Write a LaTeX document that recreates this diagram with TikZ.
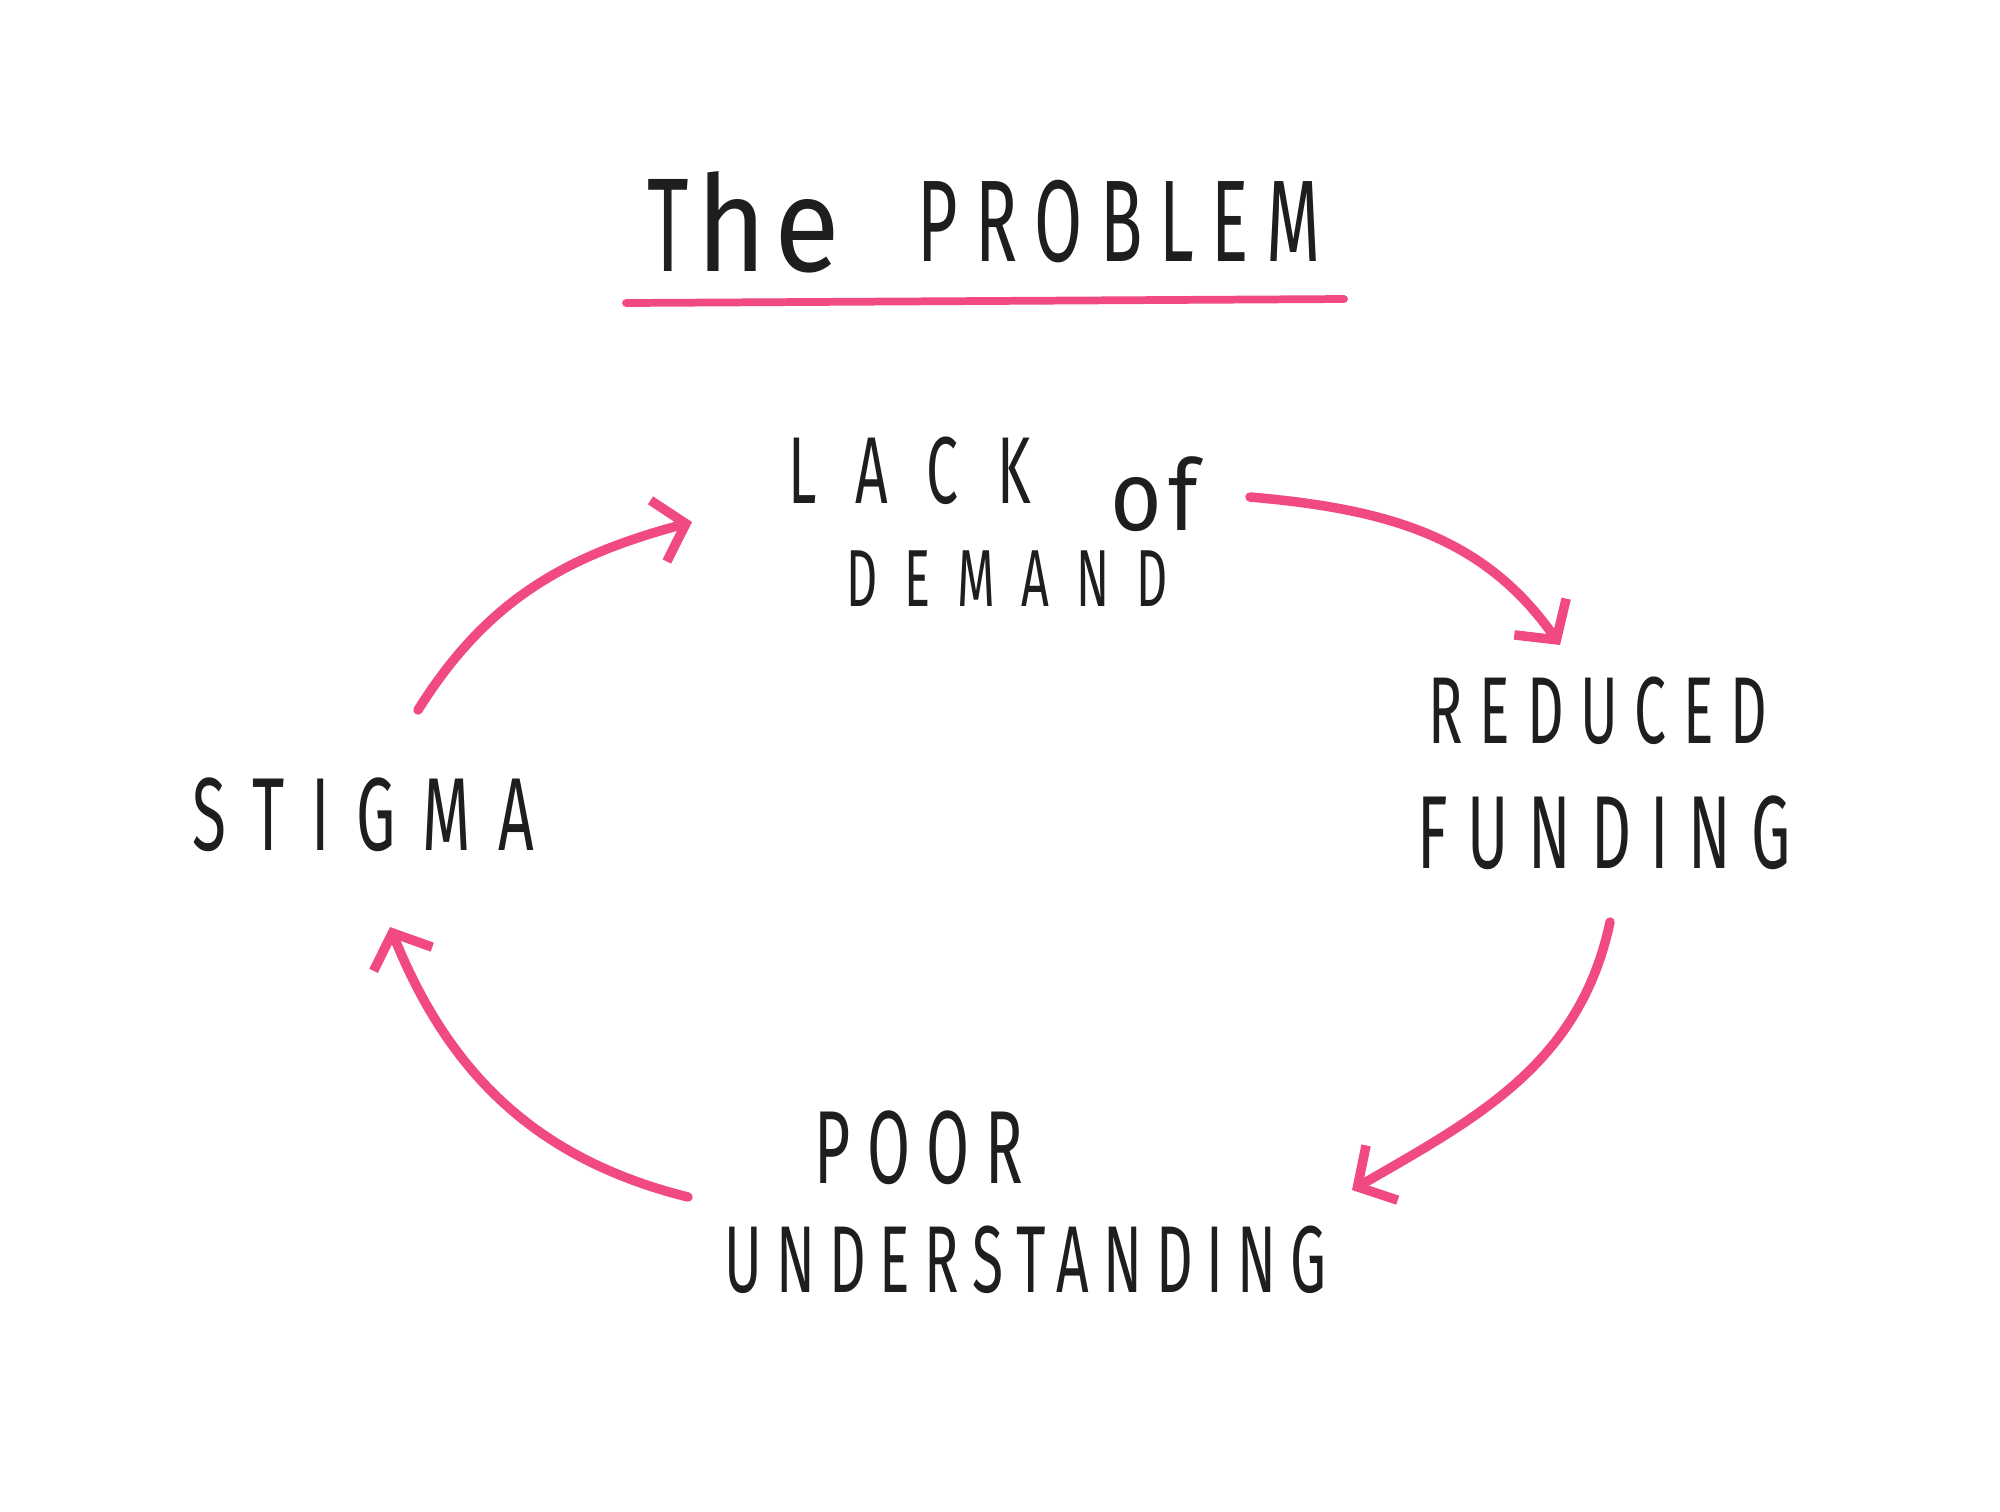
\documentclass[tikz,border=0pt]{standalone}
\usepackage{fontspec}
\usetikzlibrary{arrows.meta}
\newfontfamily\handfont[FakeStretch=0.6]{Fira Sans}
\newfontfamily\handlow[FakeStretch=0.9,LetterSpace=6]{Fira Sans}
\definecolor{pinkline}{HTML}{F04A80}
\definecolor{ink}{HTML}{1E1E1E}
\newcommand{\handset}[2]{\handfont\fontsize{#1}{#1}\selectfont\addfontfeature{LetterSpace=#2}}
\tikzset{
  label/.style={inner sep=0pt, anchor=west, text=ink},
  cycle/.style={draw=pinkline, line width=2.7pt, line cap=round,
    -{Straight Barb[length=8pt,width=18pt,line width=2.7pt]}},
}
\begin{document}
\begin{tikzpicture}[x=0.01cm,y=-0.01cm]
\useasboundingbox[fill=white] (0,0) rectangle (2000,1511);
% title
\node[label, font=\handset{38}{0}] (titleA) at (647,222) {T\hspace{2pt}{\handlow he}};
\node[label, font=\handset{33}{15}] (titleB) at (917,222) {PROBLEM};
\coordinate (ulL) at (626,303);
\coordinate (ulR) at (1344,299);
\draw[draw=pinkline, line width=2.2pt, line cap=round] (ulL) -- (ulR);
% nodes
\node[label, font=\handset{27}{41}] (lack) at (788,471) {LACK};
\node[label, font=\handset{28}{0}] (of) at (1110,494) {\handlow of};
\node[label, font=\handset{23}{33}] (demand) at (846,579) {DEMAND};
\node[label, font=\handset{27}{17.6}] (reduced) at (1428,711) {REDUCED};
\node[label, font=\handset{29.5}{19}] (funding) at (1417,833) {FUNDING};
\node[label, font=\handset{29.5}{26}] (stigma) at (192,815) {STIGMA};
\node[label, font=\handset{29.5}{15.7}] (poor) at (814,1148) {POOR};
\node[label, font=\handset{27}{14.7}] (underst) at (724,1260) {UNDERSTANDING};
% connectors
\coordinate (a1s) at (418,710);
\coordinate (a1e) at (692,522);
\coordinate (a2s) at (1250,497);
\coordinate (a2e) at (1560,645);
\coordinate (a3s) at (1610,922);
\coordinate (a3e) at (1352,1190);
\coordinate (a4s) at (688,1197);
\coordinate (a4e) at (390,927);
\draw[cycle] (a1s) to[out=58,in=195] (a1e);
\draw[cycle] (a2s) to[out=-5,in=125] (a2e);
\draw[cycle] (a3s) to[out=-102,in=30] (a3e);
\draw[cycle] (a4s) to[out=166,in=-68] (a4e);
\end{tikzpicture}
\end{document}
